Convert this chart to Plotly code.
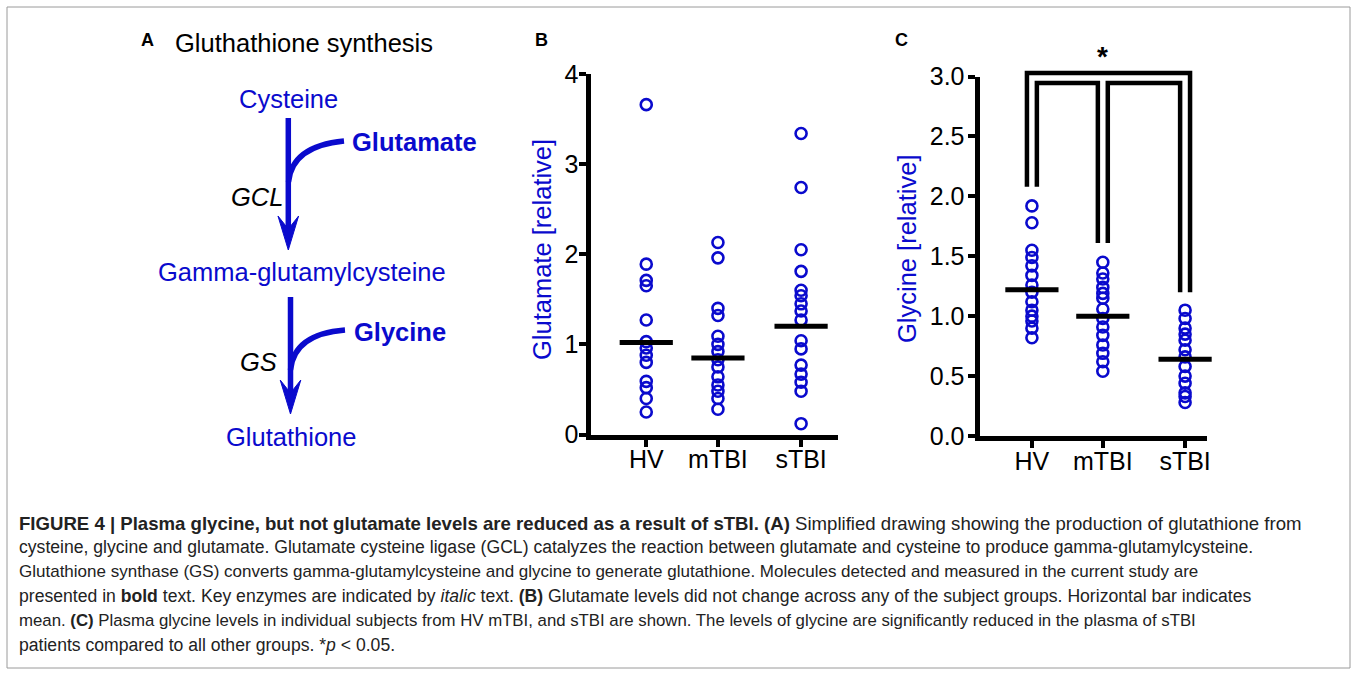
import plotly.graph_objects as go

# ---------------- data ----------------
groups = ["HV", "mTBI", "sTBI"]
group_pos = [1.0, 2.0, 3.16]

glutamate_hv = [3.66, 1.89, 1.71, 1.65, 1.27, 1.03, 0.96, 0.88, 0.80, 0.59, 0.52, 0.40, 0.25]
glutamate_mtbi = [2.13, 1.96, 1.40, 1.32, 1.09, 1.00, 0.92, 0.83, 0.75, 0.64, 0.55, 0.48, 0.40, 0.28]
glutamate_stbi = [3.34, 2.74, 2.05, 1.81, 1.60, 1.54, 1.45, 1.37, 1.27, 1.04, 0.95, 0.77, 0.67, 0.58, 0.48, 0.12]
glutamate_means = [1.02, 0.85, 1.20]

glycine_hv = [1.92, 1.78, 1.55, 1.49, 1.42, 1.34, 1.26, 1.20, 1.12, 1.05, 1.00, 0.96, 0.90, 0.82]
glycine_mtbi = [1.45, 1.36, 1.31, 1.24, 1.19, 1.15, 1.06, 0.98, 0.91, 0.84, 0.76, 0.69, 0.62, 0.54]
glycine_stbi = [1.05, 0.98, 0.90, 0.85, 0.80, 0.72, 0.66, 0.58, 0.50, 0.44, 0.36, 0.33, 0.28]
glycine_means = [1.22, 1.00, 0.64]

glutamate_ticks = [0, 1, 2, 3, 4]
glycine_ticks = [0.0, 0.5, 1.0, 1.5, 2.0, 2.5, 3.0]

# significance brackets (group index pairs, top, left leg bottom, right leg bottom)
bracket_pairs = [(0, 2), (0, 1), (1, 2)]
bracket_tops = [3.03, 2.945, 2.945]
bracket_left_bottom = [2.08, 2.08, 1.61]
bracket_right_bottom = [1.20, 1.61, 1.20]
bracket_leg_side = [-1, 1, 1]   # outer bracket legs outside, inner legs inside

caption_lines = [
    "<b>FIGURE 4 | Plasma glycine, but not glutamate levels are reduced as a result of sTBI. (A)</b> Simplified drawing showing the production of glutathione from",
    "cysteine, glycine and glutamate. Glutamate cysteine ligase (GCL) catalyzes the reaction between glutamate and cysteine to produce gamma-glutamylcysteine.",
    "Glutathione synthase (GS) converts gamma-glutamylcysteine and glycine to generate glutathione. Molecules detected and measured in the current study are",
    "presented in <b>bold</b> text. Key enzymes are indicated by <i>italic</i> text. <b>(B)</b> Glutamate levels did not change across any of the subject groups. Horizontal bar indicates",
    "mean. <b>(C)</b> Plasma glycine levels in individual subjects from HV mTBI, and sTBI are shown. The levels of glycine are significantly reduced in the plasma of sTBI",
    "patients compared to all other groups. *<i>p</i> &lt; 0.05.",
]

# ---------------- styling helpers ----------------
W, H = 1356, 674
BLUE = "#0A0ACD"
FONT = "Liberation Sans, Arial, sans-serif"
CAPFONT = "Liberation Sans, Arial, sans-serif"
caption_sizes = [18.6, 17.6, 17.0, 17.6, 16.8, 17.6]


def px(x):
    return x / W


def py(y):
    return 1 - y / H


fig = go.Figure()

marker_style = dict(symbol="circle-open", size=11, color=BLUE, line=dict(width=2.6, color=BLUE))
mean_style = dict(symbol="line-ew", size=38, color="black", line=dict(width=5, color="black"))

# ---------------- panel B ----------------
for pos, vals in zip(group_pos, [glutamate_hv, glutamate_mtbi, glutamate_stbi]):
    fig.add_trace(go.Scatter(
        x=[pos] * len(vals), y=vals, mode="markers", xaxis="x", yaxis="y",
        marker=marker_style, showlegend=False, hoverinfo="skip", cliponaxis=False))
fig.add_trace(go.Scatter(
    x=group_pos, y=glutamate_means, mode="markers", xaxis="x", yaxis="y",
    marker=mean_style, showlegend=False, hoverinfo="skip", cliponaxis=False))

# ---------------- panel C ----------------
for pos, vals in zip(group_pos, [glycine_hv, glycine_mtbi, glycine_stbi]):
    fig.add_trace(go.Scatter(
        x=[pos] * len(vals), y=vals, mode="markers", xaxis="x2", yaxis="y2",
        marker=marker_style, showlegend=False, hoverinfo="skip", cliponaxis=False))
fig.add_trace(go.Scatter(
    x=group_pos, y=glycine_means, mode="markers", xaxis="x2", yaxis="y2",
    marker=mean_style, showlegend=False, hoverinfo="skip", cliponaxis=False))

# brackets on an invisible companion axis sharing panel C's scales
leg_off = 0.07
for (a, b), top, lb, rb, side in zip(bracket_pairs, bracket_tops, bracket_left_bottom,
                                     bracket_right_bottom, bracket_leg_side):
    xl = group_pos[a] + side * leg_off
    xr = group_pos[b] - side * leg_off
    fig.add_trace(go.Scatter(
        x=[xl, xl, xr, xr], y=[lb, top, top, rb], mode="lines", xaxis="x3", yaxis="y3",
        line=dict(color="black", width=4.5), showlegend=False, hoverinfo="skip"))

# ---------------- axes ----------------
axis_common = dict(showline=True, linecolor="black", linewidth=5, ticks="outside",
                   tickcolor="black", tickwidth=4, ticklen=7, showgrid=False, zeroline=False,
                   automargin=False,
                   tickfont=dict(family=FONT, size=25, color="black"), fixedrange=True)

bx0, bx1 = 590.5, 838
by0, by1 = 434.5, 74
cx0, cx1 = 979.5, 1207
cy0, cy1 = 436, 76.5
c_top_ext = 30

xrB = [0.222, 3.675]
xrC = [0.261, 3.469]

fig.update_layout(
    width=W, height=H, autosize=False,
    margin=dict(l=0, r=0, t=0, b=0, pad=0),
    paper_bgcolor="white", plot_bgcolor="rgba(0,0,0,0)",
    xaxis=dict(domain=[px(bx0), px(bx1)], range=xrB, anchor="y",
               tickvals=group_pos, ticktext=groups, ticklabelstandoff=-9, **axis_common),
    yaxis=dict(domain=[py(by0), py(by1)], range=[0, 4], anchor="x",
               tickvals=glutamate_ticks, ticklabelstandoff=-5, **axis_common),
    xaxis2=dict(domain=[px(cx0), px(cx1)], range=xrC, anchor="y2",
                tickvals=group_pos, ticktext=groups, ticklabelstandoff=-8, **axis_common),
    yaxis2=dict(domain=[py(cy0), py(cy1)], range=[0, 3], anchor="x2",
                tickvals=glycine_ticks, tickformat=".1f", ticklabelstandoff=-2, **axis_common),
    xaxis3=dict(domain=[px(cx0), px(cx1)], range=xrC, anchor="y3", visible=False,
                automargin=False, fixedrange=True),
    yaxis3=dict(domain=[py(cy0), py(c_top_ext)],
                range=[0, 3 * (cy0 - c_top_ext) / (cy0 - cy1)], anchor="x3",
                visible=False, automargin=False, fixedrange=True),
)

ann = []


def text(x, y, s, size=25.5, color="black", xanchor="center", bold=False, italic=False,
         family=FONT, angle=0):
    t = s
    if bold:
        t = "<b>" + t + "</b>"
    if italic:
        t = "<i>" + t + "</i>"
    ann.append(dict(x=px(x), y=py(y), xref="paper", yref="paper", text=t, showarrow=False,
                    xanchor=xanchor, yanchor="middle", textangle=angle,
                    font=dict(family=family, size=size, color=color)))


# axis titles
text(542, 250, "Glutamate [relative]", size=25.5, color=BLUE, angle=-90)
text(907, 249, "Glycine [relative]", size=25.5, color=BLUE, angle=-90)

# significance star
ann.append(dict(x=group_pos[1], y=3.17, xref="x3", yref="y3", text="<b>*</b>", showarrow=False,
                xanchor="center", yanchor="middle", font=dict(family=FONT, size=28, color="black")))

# panel labels
text(147, 40, "A", size=18, bold=True)
text(541, 40, "B", size=18, bold=True)
text(901, 40, "C", size=18, bold=True)

# panel A diagram
text(173, 43, "Gluthathione synthesis", size=25.5, xanchor="left")
text(288, 99, "Cysteine", color=BLUE)
text(350, 142, "Glutamate", color=BLUE, bold=True, xanchor="left")
text(257, 197, "GCL", italic=True)
text(302, 272, "Gamma-glutamylcysteine", color=BLUE)
text(352, 332, "Glycine", color=BLUE, bold=True, xanchor="left")
text(258, 362, "GS", italic=True)
text(291, 437, "Glutathione", color=BLUE)

# caption
for i, (line, sz) in enumerate(zip(caption_lines, caption_sizes)):
    ann.append(dict(x=px(17), y=py(523 + 24.4 * i), xref="paper", yref="paper", text=line,
                    showarrow=False, xanchor="left", yanchor="middle", align="left",
                    font=dict(family=CAPFONT, size=sz, color="#222222")))

fig.update_layout(annotations=ann)


def P(x, y):
    return f"{px(x):.5f},{py(y):.5f}"


shapes = []
# arrow shafts
shapes.append(dict(type="line", xref="paper", yref="paper", x0=px(288.3), y0=py(118),
                   x1=px(288.3), y1=py(235), line=dict(color=BLUE, width=5.5)))
shapes.append(dict(type="line", xref="paper", yref="paper", x0=px(290.5), y0=py(297),
                   x1=px(290.5), y1=py(398), line=dict(color=BLUE, width=5.5)))
# curved side branches
shapes.append(dict(type="path", xref="paper", yref="paper",
                   path=f"M{P(344, 141)} Q{P(292, 146)} {P(288.5, 182)}",
                   line=dict(color=BLUE, width=5.5)))
shapes.append(dict(type="path", xref="paper", yref="paper",
                   path=f"M{P(345, 330)} Q{P(294, 334)} {P(290.5, 370)}",
                   line=dict(color=BLUE, width=5.5)))
# arrow heads
shapes.append(dict(type="path", xref="paper", yref="paper",
                   path=f"M{P(288.3, 250)} L{P(278, 216)} L{P(288.3, 229)} L{P(298.6, 216)} Z",
                   fillcolor=BLUE, line=dict(color=BLUE, width=1)))
shapes.append(dict(type="path", xref="paper", yref="paper",
                   path=f"M{P(290.5, 414)} L{P(280.2, 380)} L{P(290.5, 393)} L{P(300.8, 380)} Z",
                   fillcolor=BLUE, line=dict(color=BLUE, width=1)))
# outer frame
shapes.append(dict(type="rect", xref="paper", yref="paper", x0=px(7), y0=py(668),
                   x1=px(1350), y1=py(7), line=dict(color="#9a9a9a", width=1)))

fig.update_layout(shapes=shapes)

fig.write_html("out.html", config={"displayModeBar": False},
               post_script="document.body.style.margin='0';")
